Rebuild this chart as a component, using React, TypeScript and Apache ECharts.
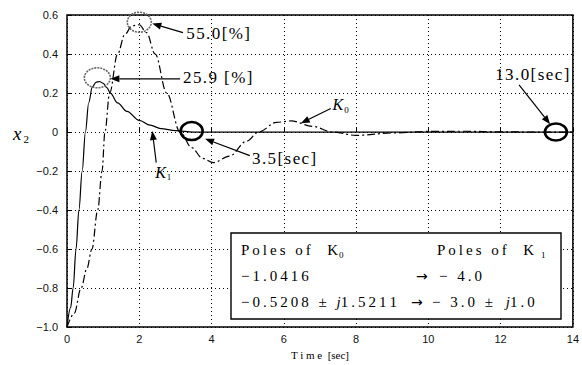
import React, { useEffect, useRef } from "react";
import * as echarts from "echarts";

// K1 response (solid)
const k1Time = [0, 0.1, 0.17, 0.25, 0.33, 0.42, 0.51, 0.6, 0.7, 0.8, 0.9, 1.0, 1.1, 1.2, 1.4, 1.66, 2.0, 2.3, 2.6, 3.0, 3.5, 4.0, 6.0, 8.0, 10.0, 12.0, 14.0];
const k1Value = [-1.0, -0.9, -0.8, -0.6, -0.4, -0.2, 0.0, 0.15, 0.23, 0.255, 0.259, 0.25, 0.228, 0.2, 0.15, 0.106, 0.06, 0.035, 0.018, 0.007, 0.0, 0.0, 0.0, 0.0, 0.0, 0.0, 0.0];

// K0 response (dash-dot)
const k0Time = [0, 0.2, 0.39, 0.55, 0.69, 0.85, 0.97, 1.05, 1.18, 1.4, 1.6, 1.8, 2.0, 2.2, 2.44, 2.76, 3.13, 3.45, 3.75, 4.05, 4.5, 4.97, 5.3, 5.8, 6.2, 6.8, 7.35, 8.0, 9.0, 10.0, 11.0, 12.0, 13.0, 14.0];
const k0Value = [-1.0, -0.93, -0.8, -0.7, -0.6, -0.4, -0.2, 0.0, 0.2, 0.4, 0.5, 0.545, 0.55, 0.51, 0.4, 0.2, 0.0, -0.08, -0.135, -0.157, -0.123, -0.047, 0.0, 0.05, 0.057, 0.029, 0.0, -0.017, -0.005, 0.003, 0.004, 0.001, 0.0, 0.0];

// annotations (data coordinates)
const circleCenters: [number, number][] = [[2.0, 0.563], [0.84, 0.278], [3.45, 0.005], [13.53, 0.0]];
const arrowFrom: [number, number][] = [[3.21, 0.51], [3.13, 0.273], [5.06, -0.121], [12.51, 0.242], [7.3, 0.121], [2.47, -0.157]];
const arrowTo: [number, number][] = [[2.36, 0.556], [1.2, 0.273], [3.82, -0.035], [13.37, 0.04], [6.47, 0.045], [2.36, 0.005]];
const labelTexts = ["55.0[%]", "25.9 [%]", "3.5[sec]", "13.0[sec]"];
const labelAt: [number, number][] = [[3.3, 0.505], [3.21, 0.278], [5.12, -0.136], [11.85, 0.293]];
const curveNames = ["0", "1"];
const curveLabelAt: [number, number][] = [[7.35, 0.141], [2.44, -0.207]];

const poleRows = [
  ["Poles of  K", "Poles of  K"],
  ["\u22121.0416", "\u2212 4.0"],
  ["\u22120.5208 \u00b1 ", "\u2212 3.0 \u00b1 "],
];

const SERIF = "Liberation Serif";
const SANS = "Liberation Sans";

export default function App() {
  const ref = useRef<HTMLDivElement>(null);
  useEffect(() => {
    if (!ref.current) return;
    const chart = echarts.init(ref.current, null, { renderer: "svg" });
    chart.setOption({
      animation: false,
      backgroundColor: "#fff",
      grid: { left: 67, top: 15, width: 508, height: 318, show: true, borderColor: "#000", borderWidth: 1.5, backgroundColor: "transparent" },
      xAxis: {
        type: "value", min: 0, max: 14, interval: 2,
        name: "T i m e  [sec]", nameLocation: "middle", nameGap: 20,
        nameTextStyle: { fontFamily: SERIF, fontSize: 11, color: "#000" },
        axisLine: { show: false },
        axisTick: { inside: true, length: 4, lineStyle: { color: "#000" } },
        axisLabel: { fontFamily: SANS, fontSize: 11, color: "#111", margin: 6 },
        splitLine: { show: true, lineStyle: { color: "#000", type: [1, 3], width: 1 } },
      },
      yAxis: {
        type: "value", min: -1.0, max: 0.6, interval: 0.2,
        axisLine: { show: false },
        axisTick: { inside: true, length: 4, lineStyle: { color: "#000" } },
        axisLabel: {
          fontFamily: SANS, fontSize: 11, color: "#111", margin: 9,
          formatter: (v: number) => (Math.abs(v) < 1e-9 ? "0" : v.toFixed(1).replace("-", "\u2212")),
        },
        splitLine: { show: true, lineStyle: { color: "#000", type: [1, 3], width: 1 } },
      },
      series: [
        {
          type: "line", name: "K1", data: k1Time.map((t, i) => [t, k1Value[i]]),
          showSymbol: false, smooth: 0.35, smoothMonotone: "x",
          lineStyle: { color: "#000", width: 1.2 },
        },
        {
          type: "line", name: "K0", data: k0Time.map((t, i) => [t, k0Value[i]]),
          showSymbol: false, smooth: 0.35, smoothMonotone: "x",
          lineStyle: { color: "#000", width: 1.2, type: [8, 3, 2, 3] },
        },
      ],
    });

    const px = (p: [number, number]) => chart.convertToPixel({ gridIndex: 0 }, p) as number[];
    const g: any[] = [];
    const radii = [[12, 10], [13, 10], [11, 9], [11, 8.5]];
    circleCenters.forEach((c, i) => {
      const [cx, cy] = px(c);
      const light = i < 2;
      g.push({
        type: "ellipse", shape: { cx, cy, rx: radii[i][0], ry: radii[i][1] },
        style: { fill: "none", stroke: light ? "#666" : "#000", lineWidth: light ? 1.6 : 2.6, lineDash: light ? [2, 1] : null },
        z: 10,
      });
    });
    const arrow = (a: [number, number], b: [number, number]) => {
      const [x1, y1] = px(a);
      const [x2, y2] = px(b);
      const ang = Math.atan2(y2 - y1, x2 - x1);
      const L = 9, W = 3.5;
      const bx = x2 - L * Math.cos(ang), by = y2 - L * Math.sin(ang);
      g.push({ type: "line", shape: { x1, y1, x2: bx, y2: by }, style: { stroke: "#000", lineWidth: 1.2 }, z: 10 });
      g.push({
        type: "polygon",
        shape: { points: [[x2, y2], [bx - W * Math.sin(ang), by + W * Math.cos(ang)], [bx + W * Math.sin(ang), by - W * Math.cos(ang)]] },
        style: { fill: "#000" }, z: 10,
      });
    };
    arrowFrom.forEach((a, i) => arrow(a, arrowTo[i]));
    const hs = (s: string) => s.split("").join("\u200a");
    labelTexts.forEach((t, i) => {
      const [x, y] = px(labelAt[i]);
      g.push({ type: "text", x, y, style: { text: hs(t), fontFamily: SERIF, fontSize: 17, fill: "#000", verticalAlign: "middle", align: "left" }, z: 10 });
    });
    curveNames.forEach((n, i) => {
      const [x, y] = px(curveLabelAt[i]);
      g.push({
        type: "text", x, y,
        style: {
          text: `{k|K}{s|${n}}`, verticalAlign: "middle", align: "left",
          rich: {
            k: { fontFamily: SERIF, fontStyle: "italic", fontSize: 16, fill: "#000" },
            s: { fontFamily: SERIF, fontSize: 9, fill: "#000", padding: [10, 0, 0, 1] },
          },
        },
        z: 10,
      });
    });
    // y-axis name x2
    g.push({
      type: "text", left: 13, top: 124,
      style: {
        text: "{x|x}{s|2}",
        rich: {
          x: { fontFamily: SERIF, fontStyle: "italic", fontSize: 19, fill: "#000" },
          s: { fontFamily: SERIF, fontSize: 11, fill: "#000", padding: [10, 0, 0, 2] },
        },
      },
    });
    // poles box
    const boxL = 231, boxT = 233, boxW = 330, boxH = 86;
    g.push({ type: "rect", shape: { x: boxL, y: boxT, width: boxW, height: boxH }, style: { fill: "#fff", stroke: "#000", lineWidth: 1.4 }, z: 20 });
    const rowY = [250, 276, 302];
    const richStyles = {
      t: { fontFamily: SERIF, fontSize: 15, fill: "#000" },
      j: { fontFamily: SERIF, fontStyle: "italic", fontSize: 15, fill: "#000" },
      a: { fontFamily: "DejaVu Sans", fontSize: 14, fill: "#000" },
      s: { fontFamily: SERIF, fontSize: 9, fill: "#000", padding: [9, 0, 0, 1] },
    };
    const sp = (s: string) => s.split("").join("\u2009");
    const txt = (x: number, y: number, text: string) =>
      g.push({ type: "text", x, y, z: 21, style: { text, verticalAlign: "middle", rich: richStyles } });
    txt(241, rowY[0], `{t|${sp(poleRows[0][0])}}{s|0}`);
    txt(437, rowY[0], `{t|${sp(poleRows[0][1])}\u2009\u2009}{s|1}`);
    txt(241, rowY[1], `{t|${sp(poleRows[1][0])}}`);
    txt(416, rowY[1], `{a|\u2192}`);
    txt(439, rowY[1], `{t|${sp(poleRows[1][1])}}`);
    txt(241, rowY[2], `{t|${sp(poleRows[2][0])}\u2009}{j|j}{t|${sp("1.5211")}}`);
    txt(411, rowY[2], `{a|\u2192}`);
    txt(432, rowY[2], `{t|${sp(poleRows[2][1])}\u2009\u2009}{j|j}{t|${sp("1.0")}}`);

    chart.setOption({ graphic: g });
    return () => chart.dispose();
  }, []);
  return <div ref={ref} style={{ position: "absolute", left: 0, top: 0, width: 582, height: 365 }} />;
}
